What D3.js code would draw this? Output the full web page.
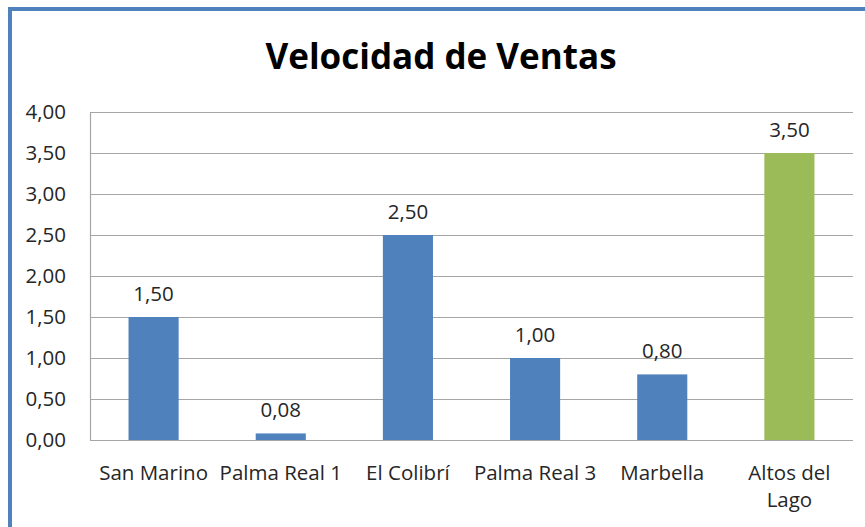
<!DOCTYPE html>
<html>
<head>
<meta charset="utf-8">
<script src="https://cdn.jsdelivr.net/npm/d3@7/dist/d3.min.js"></script>
<style>
  html, body { margin: 0; padding: 0; background: #ffffff; }
  svg { display: block; }
  text { font-family: "Open Sans", "DejaVu Sans", sans-serif; fill: #262626; }
</style>
</head>
<body>
<script>
// Sales velocity per development
const categories = ["San Marino", "Palma Real 1", "El Colibrí", "Palma Real 3", "Marbella", "Altos del Lago"];
const values = [1.50, 0.08, 2.50, 1.00, 0.80, 3.50];
const barColors = ["#4f81bd", "#4f81bd", "#4f81bd", "#4f81bd", "#4f81bd", "#9bbb59"];
const yTicks = [0, 0.5, 1, 1.5, 2, 2.5, 3, 3.5, 4];
const title = "Velocidad de Ventas";

const W = 865, H = 527;
const margin = { left: 90, right: 12, top: 112, bottom: 87 };
const fmt = v => d3.format(".2f")(v).replace(".", ",");

const svg = d3.select("body").append("svg").attr("width", W).attr("height", H);

// chart frame (continues past the right and bottom edges)
svg.append("rect")
  .attr("x", 10).attr("y", 9)
  .attr("width", W + 20).attr("height", H + 20)
  .attr("fill", "#ffffff")
  .attr("stroke", "#4f81bd").attr("stroke-width", 4);

svg.append("text")
  .attr("x", 441).attr("y", 69)
  .attr("text-anchor", "middle")
  .attr("font-size", 35).attr("font-weight", 700)
  .style("fill", "#000")
  .text(title);

const x = d3.scaleBand().domain(categories)
  .range([margin.left, W - margin.right])
  .paddingInner(0.606).paddingOuter(0.303);
const y = d3.scaleLinear().domain([0, 4]).range([H - margin.bottom, margin.top]);

// gridlines
svg.append("g")
  .selectAll("line").data(yTicks).join("line")
  .attr("x1", margin.left).attr("x2", W - margin.right)
  .attr("y1", d => Math.round(y(d)) + 0.5).attr("y2", d => Math.round(y(d)) + 0.5)
  .attr("stroke", "#a6a6a6").attr("stroke-width", 1.2);

// left edge of plot area
svg.append("line")
  .attr("x1", margin.left + 0.5).attr("x2", margin.left + 0.5)
  .attr("y1", y(4)).attr("y2", y(0))
  .attr("stroke", "#a6a6a6").attr("stroke-width", 1.2);

// y axis labels
const yAxis = d3.axisLeft(y).tickValues(yTicks).tickFormat(fmt).tickSize(0).tickPadding(24);
const gy = svg.append("g").attr("transform", `translate(${margin.left},0)`).call(yAxis);
gy.select(".domain").remove();
gy.selectAll("text")
  .attr("font-size", 20.5)
  .style("font-family", "'Open Sans', sans-serif")
  .style("fill", "#262626");

// bars
svg.append("g")
  .selectAll("rect").data(values).join("rect")
  .attr("x", (d, i) => x(categories[i]))
  .attr("width", x.bandwidth())
  .attr("y", d => y(d))
  .attr("height", d => y(0) - y(d))
  .attr("fill", (d, i) => barColors[i]);

// value labels
svg.append("g")
  .selectAll("text").data(values).join("text")
  .attr("x", (d, i) => x(categories[i]) + x.bandwidth() / 2)
  .attr("y", d => y(d) - 16)
  .attr("text-anchor", "middle")
  .attr("font-size", 20.5)
  .text(d => fmt(d));

// category labels, wrapped to the band step
const step = x.step();
const gx = svg.append("g");
categories.forEach(c => {
  const cx = x(c) + x.bandwidth() / 2;
  const t = gx.append("text")
    .attr("x", cx).attr("y", H - margin.bottom + 40)
    .attr("text-anchor", "middle")
    .attr("font-size", 20.5);
  const words = c.split(" ");
  let line = [];
  let tspan = t.append("tspan").attr("x", cx).attr("dy", 0);
  words.forEach(w => {
    line.push(w);
    tspan.text(line.join(" "));
    if (tspan.node().getComputedTextLength() > step - 2 && line.length > 1) {
      line.pop();
      tspan.text(line.join(" "));
      line = [w];
      tspan = t.append("tspan").attr("x", cx).attr("dy", 27).text(w);
    }
  });
});
</script>
</body>
</html>
